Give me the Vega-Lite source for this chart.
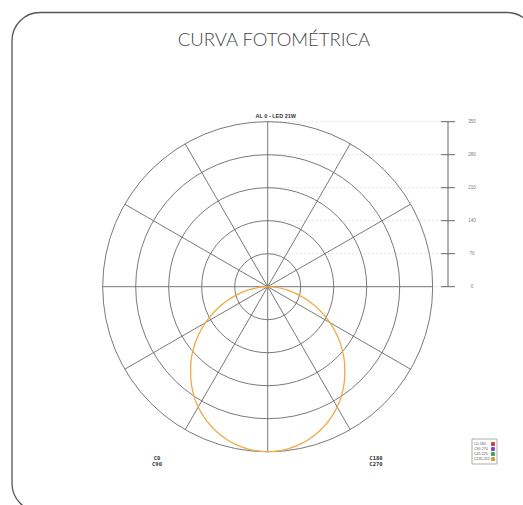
{
  "$schema": "https://vega.github.io/schema/vega-lite/v6.json",
  "width": 523,
  "height": 505,
  "padding": 0,
  "autosize": {"type": "none"},
  "background": "white",
  "config": {"view": {"stroke": null}, "axis": {"disable": true}},
  "datasets": {
    "levels": [{"v": 0}, {"v": 70}, {"v": 140}, {"v": 210}, {"v": 280}, {"v": 350}],
    "rings": [{"r": 70}, {"r": 140}, {"r": 210}, {"r": 280}, {"r": 350}],
    "spokes": [
      {"x": 0, "y": 350, "x2": 0, "y2": -350},
      {"x": 175, "y": 303.1, "x2": -175, "y2": -303.1},
      {"x": 303.1, "y": 175, "x2": -303.1, "y2": -175},
      {"x": 350, "y": 0, "x2": -350, "y2": 0},
      {"x": 303.1, "y": -175, "x2": -303.1, "y2": 175},
      {"x": 175, "y": -303.1, "x2": -175, "y2": 303.1}
    ],
    "curve": [
      {"ang": -90, "x": 0, "y": 0},
      {"ang": -85, "x": -18.6, "y": -1.6},
      {"ang": -80, "x": -42.1, "y": -7.4},
      {"ang": -75, "x": -66.7, "y": -17.9},
      {"ang": -70, "x": -90.8, "y": -33.0},
      {"ang": -65, "x": -112.8, "y": -52.6},
      {"ang": -60, "x": -132.0, "y": -76.2},
      {"ang": -55, "x": -147.1, "y": -103.0},
      {"ang": -50, "x": -157.7, "y": -132.3},
      {"ang": -45, "x": -163.3, "y": -163.3},
      {"ang": -40, "x": -163.3, "y": -194.7},
      {"ang": -35, "x": -158.0, "y": -225.7},
      {"ang": -30, "x": -147.3, "y": -255.0},
      {"ang": -25, "x": -131.4, "y": -281.9},
      {"ang": -20, "x": -111.1, "y": -305.2},
      {"ang": -15, "x": -86.9, "y": -324.3},
      {"ang": -10, "x": -59.7, "y": -338.4},
      {"ang": -5, "x": -30.4, "y": -347.1},
      {"ang": 0, "x": 0, "y": -350},
      {"ang": 5, "x": 30.4, "y": -347.1},
      {"ang": 10, "x": 59.7, "y": -338.4},
      {"ang": 15, "x": 86.9, "y": -324.3},
      {"ang": 20, "x": 111.1, "y": -305.2},
      {"ang": 25, "x": 131.4, "y": -281.9},
      {"ang": 30, "x": 147.3, "y": -255.0},
      {"ang": 35, "x": 158.0, "y": -225.7},
      {"ang": 40, "x": 163.3, "y": -194.7},
      {"ang": 45, "x": 163.3, "y": -163.3},
      {"ang": 50, "x": 157.7, "y": -132.3},
      {"ang": 55, "x": 147.1, "y": -103.0},
      {"ang": 60, "x": 132.0, "y": -76.2},
      {"ang": 65, "x": 112.8, "y": -52.6},
      {"ang": 70, "x": 90.8, "y": -33.0},
      {"ang": 75, "x": 66.7, "y": -17.9},
      {"ang": 80, "x": 42.1, "y": -7.4},
      {"ang": 85, "x": 18.6, "y": -1.6},
      {"ang": 90, "x": 0, "y": 0}
    ],
    "legend": [{"c": "C0-180"}, {"c": "C90-270"}, {"c": "C45-225"}, {"c": "C135-315"}],
    "title": [{"t": "CURVA FOTOMÉTRICA"}],
    "lamp": [{"t": "AL 0 - LED 21W"}],
    "planeL": [{"t": "C0\nC90"}],
    "planeR": [{"t": "C180\nC270"}]
  },
  "data": {"name": "levels"},
  "layer": [
    {
      "data": {"name": "title"},
      "mark": {"type": "rect", "filled": false, "stroke": "#555555", "strokeWidth": 1.3, "cornerRadius": 28, "clip": true},
      "encoding": {
        "x": {"datum": -542.4, "type": "quantitative", "scale": {"domain": [-567.9, 541.6], "nice": false, "zero": false}, "axis": null},
        "x2": {"datum": 567.0},
        "y": {"datum": 581.7, "type": "quantitative", "scale": {"domain": [-463.1, 608.2], "nice": false, "zero": false}, "axis": null},
        "y2": {"datum": -476.9}
      }
    },
    {
      "data": {"name": "levels"},
      "mark": {"type": "rule", "stroke": "#dcdcdc", "strokeWidth": 0.8, "strokeDash": [2, 2]},
      "encoding": {
        "x": {"datum": 0, "type": "quantitative", "scale": {"domain": [-567.9, 541.6], "nice": false, "zero": false}, "axis": null},
        "x2": {"datum": 382.5},
        "y": {"field": "v", "type": "quantitative", "scale": {"domain": [-463.1, 608.2], "nice": false, "zero": false}, "axis": null}
      }
    },
    {
      "data": {"name": "rings"},
      "mark": {"type": "point", "shape": "circle", "filled": false, "stroke": "#6a6a6a", "strokeWidth": 0.9, "opacity": 1},
      "encoding": {
        "x": {"datum": 0, "type": "quantitative", "scale": {"domain": [-567.9, 541.6], "nice": false, "zero": false}, "axis": null},
        "y": {"datum": 0, "type": "quantitative", "scale": {"domain": [-463.1, 608.2], "nice": false, "zero": false}, "axis": null},
        "size": {"field": "r", "type": "quantitative", "scale": {"type": "pow", "exponent": 2, "domain": [0, 350], "range": [0, 108900], "zero": true}, "legend": null}
      }
    },
    {
      "data": {"name": "spokes"},
      "mark": {"type": "rule", "stroke": "#6a6a6a", "strokeWidth": 0.9},
      "encoding": {
        "x": {"field": "x", "type": "quantitative", "scale": {"domain": [-567.9, 541.6], "nice": false, "zero": false}, "axis": null},
        "x2": {"field": "x2"},
        "y": {"field": "y", "type": "quantitative", "scale": {"domain": [-463.1, 608.2], "nice": false, "zero": false}, "axis": null},
        "y2": {"field": "y2"}
      }
    },
    {
      "data": {"name": "curve"},
      "mark": {"type": "line", "stroke": "#F0AA48", "strokeWidth": 1.3, "interpolate": "monotone"},
      "encoding": {
        "x": {"field": "x", "type": "quantitative", "scale": {"domain": [-567.9, 541.6], "nice": false, "zero": false}, "axis": null},
        "y": {"field": "y", "type": "quantitative", "scale": {"domain": [-463.1, 608.2], "nice": false, "zero": false}, "axis": null},
        "order": {"field": "ang", "type": "quantitative"}
      }
    },
    {
      "data": {"name": "title"},
      "mark": {"type": "rule", "stroke": "#666666", "strokeWidth": 1},
      "encoding": {
        "x": {"datum": 382.5, "type": "quantitative", "scale": {"domain": [-567.9, 541.6], "nice": false, "zero": false}, "axis": null},
        "y": {"datum": 0, "type": "quantitative", "scale": {"domain": [-463.1, 608.2], "nice": false, "zero": false}, "axis": null},
        "y2": {"datum": 350}
      }
    },
    {
      "data": {"name": "levels"},
      "mark": {"type": "rule", "stroke": "#666666", "strokeWidth": 1},
      "encoding": {
        "x": {"datum": 367.7, "type": "quantitative", "scale": {"domain": [-567.9, 541.6], "nice": false, "zero": false}, "axis": null},
        "x2": {"datum": 397.3},
        "y": {"field": "v", "type": "quantitative", "scale": {"domain": [-463.1, 608.2], "nice": false, "zero": false}, "axis": null}
      }
    },
    {
      "data": {"name": "levels"},
      "mark": {"type": "text", "font": "Liberation Sans", "fontSize": 4.5, "fill": "#777777", "align": "center", "baseline": "middle"},
      "encoding": {
        "x": {"datum": 433.4, "type": "quantitative", "scale": {"domain": [-567.9, 541.6], "nice": false, "zero": false}, "axis": null},
        "y": {"field": "v", "type": "quantitative", "scale": {"domain": [-463.1, 608.2], "nice": false, "zero": false}, "axis": null},
        "text": {"field": "v", "type": "quantitative"}
      }
    },
    {
      "data": {"name": "title"},
      "mark": {"type": "text", "font": "Lato", "fontWeight": 300, "fontSize": 18.5, "fill": "#444444", "align": "center", "baseline": "middle"},
      "encoding": {
        "x": {"datum": 13.4, "type": "quantitative", "scale": {"domain": [-567.9, 541.6], "nice": false, "zero": false}, "axis": null},
        "y": {"datum": 523.3, "type": "quantitative", "scale": {"domain": [-463.1, 608.2], "nice": false, "zero": false}, "axis": null},
        "text": {"field": "t"}
      }
    },
    {
      "data": {"name": "lamp"},
      "mark": {"type": "text", "font": "Liberation Sans", "fontWeight": "bold", "fontSize": 5.5, "fill": "#333333", "align": "center", "baseline": "middle"},
      "encoding": {
        "x": {"datum": 17, "type": "quantitative", "scale": {"domain": [-567.9, 541.6], "nice": false, "zero": false}, "axis": null},
        "y": {"datum": 362, "type": "quantitative", "scale": {"domain": [-463.1, 608.2], "nice": false, "zero": false}, "axis": null},
        "text": {"field": "t"}
      }
    },
    {
      "data": {"name": "planeL"},
      "mark": {"type": "text", "font": "DejaVu Sans Mono", "fontWeight": "bold", "fontSize": 5.5, "fill": "#333333", "align": "center", "baseline": "middle", "lineBreak": "\n", "lineHeight": 5.5},
      "encoding": {
        "x": {"datum": -234.8, "type": "quantitative", "scale": {"domain": [-567.9, 541.6], "nice": false, "zero": false}, "axis": null},
        "y": {"datum": -363.4, "type": "quantitative", "scale": {"domain": [-463.1, 608.2], "nice": false, "zero": false}, "axis": null},
        "text": {"field": "t"}
      }
    },
    {
      "data": {"name": "planeR"},
      "mark": {"type": "text", "font": "DejaVu Sans Mono", "fontWeight": "bold", "fontSize": 5.5, "fill": "#333333", "align": "center", "baseline": "middle", "lineBreak": "\n", "lineHeight": 5.5},
      "encoding": {
        "x": {"datum": 229.7, "type": "quantitative", "scale": {"domain": [-567.9, 541.6], "nice": false, "zero": false}, "axis": null},
        "y": {"datum": -363.4, "type": "quantitative", "scale": {"domain": [-463.1, 608.2], "nice": false, "zero": false}, "axis": null},
        "text": {"field": "t"}
      }
    },
    {
      "data": {"name": "title"},
      "mark": {"type": "rect", "fill": "white", "stroke": "#999999", "strokeWidth": 0.8},
      "encoding": {
        "x": {"datum": 433.4, "type": "quantitative", "scale": {"domain": [-567.9, 541.6], "nice": false, "zero": false}, "axis": null},
        "x2": {"datum": 486.4},
        "y": {"datum": -323.1, "type": "quantitative", "scale": {"domain": [-463.1, 608.2], "nice": false, "zero": false}, "axis": null},
        "y2": {"datum": -376.1}
      }
    },
    {
      "data": {"name": "legend"},
      "mark": {"type": "text", "font": "Liberation Sans", "fontSize": 3.6, "fill": "#555555", "align": "left", "baseline": "middle"},
      "encoding": {
        "x": {"datum": 437.7, "type": "quantitative", "scale": {"domain": [-567.9, 541.6], "nice": false, "zero": false}, "axis": null},
        "y": {"datum": -333.7, "type": "quantitative", "scale": {"domain": [-463.1, 608.2], "nice": false, "zero": false}, "axis": null},
        "yOffset": {"field": "c", "type": "nominal", "scale": {"type": "point", "domain": ["C0-180", "C90-270", "C45-225", "C135-315"], "range": [0, 15], "padding": 0}},
        "text": {"field": "c"}
      }
    },
    {
      "data": {"name": "legend"},
      "mark": {"type": "point", "shape": "square", "filled": true, "size": 14, "opacity": 1},
      "encoding": {
        "x": {"datum": 477.9, "type": "quantitative", "scale": {"domain": [-567.9, 541.6], "nice": false, "zero": false}, "axis": null},
        "y": {"datum": -333.7, "type": "quantitative", "scale": {"domain": [-463.1, 608.2], "nice": false, "zero": false}, "axis": null},
        "yOffset": {"field": "c", "type": "nominal", "scale": {"type": "point", "domain": ["C0-180", "C90-270", "C45-225", "C135-315"], "range": [0, 15], "padding": 0}},
        "color": {"field": "c", "type": "nominal", "scale": {"domain": ["C0-180", "C90-270", "C45-225", "C135-315"], "range": ["#d83030", "#8040c0", "#30a050", "#e09030"]}, "legend": null}
      }
    }
  ]
}
